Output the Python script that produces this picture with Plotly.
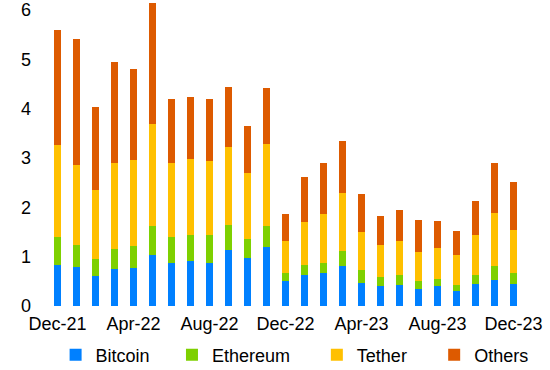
import plotly.graph_objects as go

months = ["Dec-21","Jan-22","Feb-22","Mar-22","Apr-22","May-22","Jun-22","Jul-22","Aug-22","Sep-22","Oct-22","Nov-22",
          "Dec-22","Jan-23","Feb-23","Mar-23","Apr-23","May-23","Jun-23","Jul-23","Aug-23","Sep-23","Oct-23","Nov-23","Dec-23"]
bitcoin  = [0.84,0.80,0.60,0.76,0.77,1.03,0.87,0.91,0.87,1.13,0.97,1.19,0.51,0.63,0.67,0.82,0.46,0.40,0.43,0.34,0.40,0.31,0.45,0.52,0.45]
ethereum = [0.55,0.44,0.36,0.39,0.45,0.59,0.53,0.52,0.56,0.51,0.38,0.43,0.15,0.21,0.20,0.29,0.26,0.19,0.20,0.16,0.15,0.12,0.18,0.29,0.21]
tether   = [1.88,1.61,1.40,1.75,1.73,2.06,1.50,1.54,1.51,1.58,1.35,1.67,0.65,0.86,0.99,1.19,0.77,0.64,0.68,0.60,0.62,0.60,0.80,1.08,0.88]
others   = [2.33,2.56,1.68,2.05,1.85,2.70,1.29,1.27,1.25,1.21,0.95,1.13,0.56,0.91,1.04,1.04,0.78,0.59,0.64,0.64,0.56,0.49,0.70,1.00,0.98]
tick_labels = ["Dec-21","Apr-22","Aug-22","Dec-22","Apr-23","Aug-23","Dec-23"]

series = [("Bitcoin", bitcoin, "#0080FF"), ("Ethereum", ethereum, "#7ED000"),
          ("Tether", tether, "#FFC000"), ("Others", others, "#DD5A00")]
legend_ids = ["legend", "legend2", "legend3", "legend4"]
legend_x = [0.016, 0.261, 0.566, 0.813]

L, R = 47.5, 26.5
FONT = "Liberation Sans, Arial, sans-serif"

fig = go.Figure()
for (name, vals, col), lid in zip(series, legend_ids):
    fig.add_trace(go.Bar(x=months, y=vals, name=name, legend=lid,
                         marker=dict(color=col, line=dict(width=0))))

legend_common = dict(orientation="h", y=-0.162, yanchor="middle", xanchor="left",
                     font=dict(size=18, family=FONT), itemwidth=30, bgcolor="rgba(0,0,0,0)",
                     borderwidth=0)
layout_legends = {lid: dict(legend_common, x=lx) for lid, lx in zip(legend_ids, legend_x)}

fig.update_layout(
    barmode="stack", bargap=0.58,
    width=550, height=370,
    margin=dict(l=L, r=R, t=3, b=64, autoexpand=False),
    paper_bgcolor="white", plot_bgcolor="white",
    font=dict(family=FONT, size=18, color="black"),
    showlegend=True,
    **layout_legends,
)
fig.update_xaxes(type="category", tickmode="array", tickvals=tick_labels, ticktext=tick_labels,
                 showgrid=False, showline=False, zeroline=False, ticks="", ticklabelstandoff=5,
                 ticklabeloverflow="allow", automargin=False)
fig.update_yaxes(range=[0, 6.14], tickmode="linear", tick0=0, dtick=1, showgrid=False, showline=False,
                 zeroline=False, ticks="", ticklabelstandoff=16, ticklabeloverflow="allow",
                 automargin=False)

fig.write_html("out.html", config={"displayModeBar": False},
               post_script="document.body.style.margin='0';")
